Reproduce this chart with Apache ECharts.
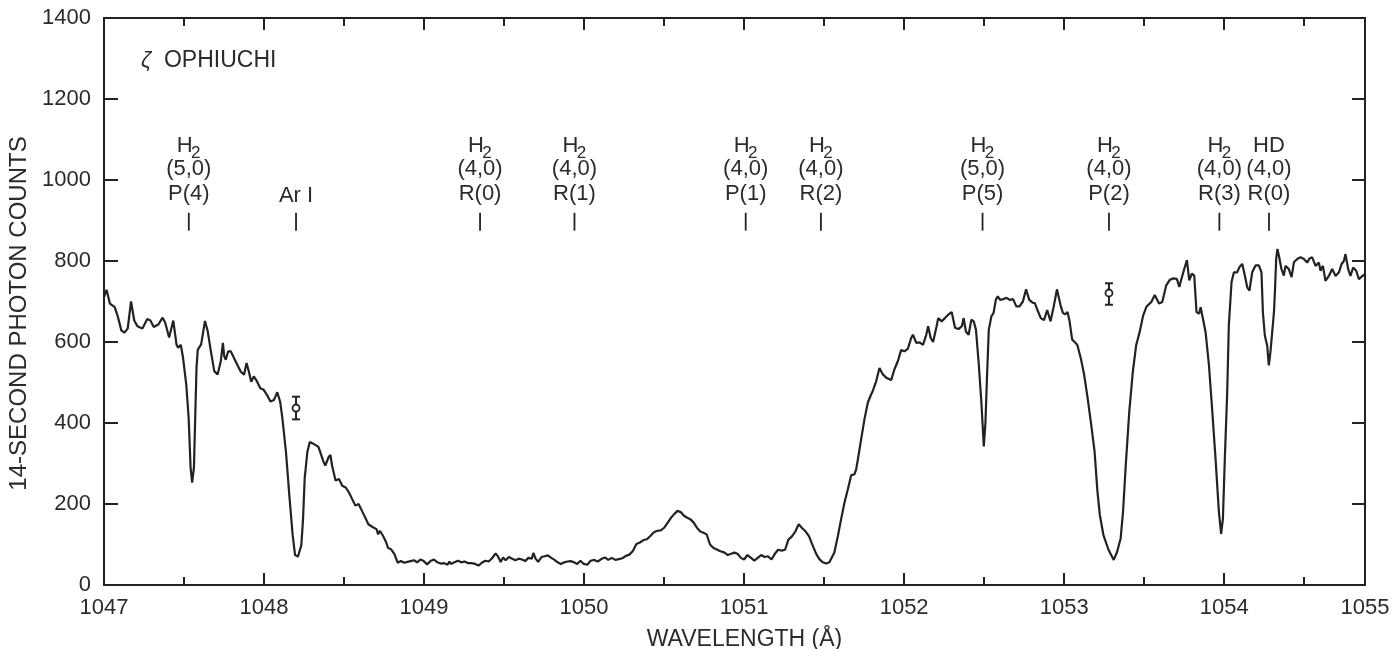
<!DOCTYPE html>
<html><head><meta charset="utf-8">
<script src="https://cdn.jsdelivr.net/npm/echarts@6/dist/echarts.min.js"></script>
<style>html,body{margin:0;padding:0;background:#fff}#c{width:1398px;height:649px}</style>
</head><body><div id="c"></div>
<script>
// ---- data ----
const spectrum = [
[1047.000,711],[1047.016,729],[1047.037,695],[1047.067,686],[1047.087,662],[1047.108,629],[1047.128,623],[1047.148,633],[1047.169,700],[1047.189,653],[1047.209,639],[1047.240,633],[1047.270,657],[1047.290,653],[1047.311,637],[1047.341,644],[1047.366,660],[1047.382,648],[1047.407,611],[1047.433,653],[1047.453,594],[1047.463,586],[1047.480,593],[1047.494,561],[1047.514,495],[1047.529,413],[1047.541,290],[1047.551,253],[1047.562,290],[1047.570,413],[1047.578,536],[1047.586,581],[1047.607,594],[1047.631,652],[1047.648,627],[1047.668,577],[1047.689,528],[1047.710,520],[1047.730,553],[1047.743,598],[1047.751,565],[1047.761,556],[1047.776,577],[1047.792,577],[1047.813,560],[1047.833,544],[1047.854,527],[1047.875,519],[1047.891,548],[1047.905,527],[1047.920,502],[1047.936,515],[1047.957,502],[1047.977,486],[1047.998,482],[1048.019,469],[1048.040,453],[1048.062,457],[1048.083,476],[1048.101,452],[1048.115,411],[1048.137,329],[1048.158,222],[1048.179,123],[1048.194,74],[1048.212,70],
[1048.233,98],[1048.244,164],[1048.254,263],[1048.271,329],[1048.286,353],[1048.308,349],[1048.340,341],[1048.351,337],[1048.372,304],[1048.383,295],[1048.404,316],[1048.415,321],[1048.425,295],[1048.447,258],[1048.468,262],[1048.489,245],[1048.510,241],[1048.530,229],[1048.551,212],[1048.571,196],[1048.591,200],[1048.612,183],[1048.632,167],[1048.652,150],[1048.683,142],[1048.703,138],[1048.713,125],[1048.724,134],[1048.744,121],[1048.764,105],[1048.774,92],[1048.794,88],[1048.815,76],[1048.835,55],[1048.855,59],[1048.876,55],[1048.896,57],[1048.916,59],[1048.937,61],[1048.957,56],[1048.977,63],[1048.998,59],[1049.019,51],[1049.040,59],[1049.062,63],[1049.083,56],[1049.104,53],[1049.126,54],[1049.147,50],[1049.158,58],[1049.168,52],[1049.190,56],[1049.212,60],[1049.233,56],[1049.254,58],[1049.276,54],[1049.297,54],[1049.319,52],[1049.340,48],[1049.361,55],[1049.383,60],[1049.404,58],[1049.425,66],[1049.447,78],[1049.463,70],[1049.479,57],[1049.494,68],[1049.510,61],[1049.530,69],[1049.551,65],[1049.571,61],[1049.591,65],[1049.612,63],[1049.632,59],[1049.652,67],[1049.673,65],[1049.683,79],[1049.697,65],
[1049.713,57],[1049.734,69],[1049.754,71],[1049.774,73],[1049.795,67],[1049.815,62],[1049.835,56],[1049.855,52],[1049.876,56],[1049.896,58],[1049.916,59],[1049.937,56],[1049.957,52],[1049.977,60],[1049.998,52],[1050.020,50],[1050.041,60],[1050.064,62],[1050.086,58],[1050.107,64],[1050.130,68],[1050.151,62],[1050.173,67],[1050.195,62],[1050.217,64],[1050.239,66],[1050.261,72],[1050.283,75],[1050.305,84],[1050.327,101],[1050.349,105],[1050.371,111],[1050.393,113],[1050.414,121],[1050.436,130],[1050.459,134],[1050.480,135],[1050.502,142],[1050.523,154],[1050.543,166],[1050.563,175],[1050.584,183],[1050.604,180],[1050.624,171],[1050.645,166],[1050.665,162],[1050.685,154],[1050.706,141],[1050.726,132],[1050.746,129],[1050.766,125],[1050.776,113],[1050.787,100],[1050.807,92],[1050.827,88],[1050.848,84],[1050.858,88],[1050.878,80],[1050.898,74],[1050.919,77],[1050.939,80],[1050.959,77],[1050.980,67],[1051.000,63],[1051.021,74],[1051.043,67],[1051.064,60],[1051.085,67],[1051.107,74],[1051.128,69],[1051.149,71],[1051.171,63],[1051.192,77],[1051.213,87],[1051.235,85],[1051.256,87],[1051.277,112],[1051.299,120],[1051.320,132],[1051.341,150],[1051.363,140],[1051.385,132],[1051.406,120],[1051.427,99],[1051.449,78],[1051.470,64],[1051.492,56],[1051.513,53],[1051.533,56],
[1051.544,59],[1051.564,80],[1051.586,121],[1051.606,162],[1051.627,203],[1051.648,236],[1051.669,271],[1051.689,273],[1051.700,285],[1051.711,310],[1051.731,359],[1051.752,409],[1051.773,450],[1051.789,466],[1051.804,479],[1051.825,503],[1051.846,536],[1051.867,520],[1051.888,512],[1051.919,506],[1051.939,532],[1051.961,553],[1051.981,580],[1052.002,577],[1052.023,583],[1052.044,610],[1052.055,618],[1052.076,598],[1052.097,599],[1052.118,593],[1052.139,619],[1052.150,639],[1052.166,610],[1052.181,600],[1052.203,639],[1052.213,659],[1052.234,651],[1052.255,659],[1052.277,668],[1052.297,674],[1052.318,635],[1052.340,632],[1052.361,639],[1052.372,659],[1052.386,626],[1052.403,618],[1052.420,655],[1052.435,651],[1052.449,630],[1052.466,548],[1052.483,449],[1052.498,342],[1052.508,400],[1052.518,515],[1052.529,630],[1052.545,663],[1052.559,672],[1052.573,704],[1052.585,713],[1052.600,704],[1052.620,706],[1052.640,709],[1052.660,704],[1052.681,706],[1052.701,688],[1052.721,688],[1052.742,700],[1052.762,730],[1052.782,704],[1052.803,697],[1052.817,696],[1052.833,679],[1052.854,659],[1052.874,654],[1052.894,679],
[1052.915,651],[1052.935,688],[1052.955,730],[1052.976,693],[1052.992,672],[1053.006,668],[1053.021,674],[1053.034,651],[1053.050,606],[1053.082,593],[1053.104,560],[1053.125,519],[1053.147,461],[1053.169,396],[1053.190,330],[1053.208,231],[1053.223,173],[1053.245,124],[1053.277,87],[1053.310,62],[1053.331,82],[1053.353,115],[1053.368,181],[1053.385,296],[1053.407,428],[1053.429,526],[1053.450,592],[1053.472,625],[1053.494,666],[1053.514,687],[1053.545,699],[1053.566,716],[1053.593,695],[1053.613,699],[1053.638,740],[1053.659,753],[1053.679,757],[1053.704,756],[1053.720,736],[1053.730,752],[1053.751,781],[1053.767,802],[1053.782,752],[1053.798,769],[1053.813,764],[1053.827,674],[1053.843,670],[1053.853,686],[1053.864,682],[1053.884,624],[1053.905,542],[1053.926,427],[1053.946,312],[1053.967,180],[1053.981,126],[1053.992,163],[1054.004,312],[1054.019,476],[1054.029,641],[1054.046,748],[1054.061,772],[1054.081,772],[1054.096,785],[1054.113,793],[1054.129,764],[1054.144,735],[1054.158,727],[1054.175,772],[1054.196,789],[1054.217,789],[1054.233,772],[1054.242,673],[1054.254,616],[1054.269,591],[1054.279,542],[1054.289,575],[1054.300,624],[1054.311,673],[1054.317,723],[1054.325,805],[1054.333,830],[1054.346,805],[1054.358,780],[1054.373,764],[1054.383,788],[1054.404,780],[1054.421,760],[1054.436,797],[1054.456,805],[1054.477,809],[1054.498,805],[1054.519,796],[1054.533,806],[1054.550,809],[1054.571,788],[1054.592,796],[1054.602,776],[1054.617,788],[1054.633,751],[1054.654,763],[1054.675,780],[1054.696,763],[1054.717,772],[1054.733,792],[1054.748,800],[1054.758,817],[1054.775,780],[1054.789,763],[1054.806,784],[1054.825,776],[1054.842,755],[1054.863,763],[1054.879,767]
];

// absorption-line identifications
const lineWavelengths = [1047.53, 1048.20, 1049.35, 1049.94, 1051.01, 1051.48, 1052.49, 1053.28, 1053.97, 1054.28];
const lineSpecies  = ['H2', 'Ar I', 'H2', 'H2', 'H2', 'H2', 'H2', 'H2', 'H2', 'HD'];
const lineBands    = ['(5,0)', '', '(4,0)', '(4,0)', '(4,0)', '(4,0)', '(5,0)', '(4,0)', '(4,0)', '(4,0)'];
const lineBranches = ['P(4)', '', 'R(0)', 'R(1)', 'P(1)', 'R(2)', 'P(5)', 'P(2)', 'R(3)', 'R(0)'];

// representative error bars: [wavelength, counts, low, high]
const errorBars = [[1048.20, 437, 409, 465], [1053.28, 721, 692, 745]];

const xMin = 1047, xMax = 1054.88;
const yTicks = [0, 200, 400, 600, 800, 1000, 1200, 1400];
const starName = 'ζ';
const starLabel = 'OPHIUCHI';
const xTitle = 'WAVELENGTH (Å)';
const yTitle = '14-SECOND PHOTON COUNTS';

// ---- chart ----
const FONT = '"Liberation Sans", Arial, Helvetica, sans-serif';
const INK = '#222';
const TXT = '#2b2b2b';
const chart = echarts.init(document.getElementById('c'), null, {renderer: 'canvas'});

const xLab = v => (Math.abs(v - Math.round(v)) < 0.15 ? String(Math.round(v)) : '');
const baseX = {type: 'value', min: xMin, max: xMax, splitLine: {show: false}, axisPointer: {show: false}};
const xAxes = [
  Object.assign({}, baseX, {position: 'bottom', interval: 1,
    axisLine: {show: true, lineStyle: {color: INK, width: 2}},
    axisTick: {show: true, inside: true, length: 12, lineStyle: {color: INK, width: 2}},
    axisLabel: {show: true, formatter: xLab, fontSize: 22, color: TXT, fontFamily: FONT, margin: 12, showMaxLabel: true, showMinLabel: true},
    name: xTitle, nameLocation: 'middle', nameGap: 43,
    nameTextStyle: {fontSize: 23, color: TXT, fontFamily: FONT, padding: [0, 0, 0, 20]}}),
  Object.assign({}, baseX, {position: 'bottom', interval: 0.5,
    axisLine: {show: false}, axisLabel: {show: false},
    axisTick: {show: true, inside: true, length: 8, lineStyle: {color: INK, width: 2}}}),
  Object.assign({}, baseX, {position: 'top', interval: 1,
    axisLine: {show: true, lineStyle: {color: INK, width: 2}}, axisLabel: {show: false},
    axisTick: {show: true, inside: true, length: 12, lineStyle: {color: INK, width: 2}}}),
  Object.assign({}, baseX, {position: 'top', interval: 0.5,
    axisLine: {show: false}, axisLabel: {show: false},
    axisTick: {show: true, inside: true, length: 8, lineStyle: {color: INK, width: 2}}})
];
const baseY = {type: 'value', min: yTicks[0], max: yTicks[yTicks.length - 1], interval: yTicks[1] - yTicks[0], splitLine: {show: false}};
const yAxes = [
  Object.assign({}, baseY, {position: 'left',
    axisLine: {show: true, lineStyle: {color: INK, width: 2}},
    axisTick: {show: true, inside: true, length: 14, lineStyle: {color: INK, width: 2}},
    axisLabel: {fontSize: 22, color: TXT, fontFamily: FONT, margin: 13, formatter: v => String(v)},
    name: yTitle, nameLocation: 'middle', nameGap: 70,
    nameTextStyle: {fontSize: 24, color: TXT, fontFamily: FONT, padding: [0, 24, 0, 0]}}),
  Object.assign({}, baseY, {position: 'right',
    axisLine: {show: true, lineStyle: {color: INK, width: 2}},
    axisTick: {show: true, inside: true, length: 13, lineStyle: {color: INK, width: 2}},
    axisLabel: {show: false}})
];

function txt(text, x, y, size) {
  return {type: 'text', style: {text: text, x: x, y: y, fontSize: size, fontFamily: FONT, fill: TXT,
    align: 'center', verticalAlign: 'middle', textAlign: 'center', textVerticalAlign: 'middle'}};
}

const option = {
  animation: false,
  backgroundColor: '#fff',
  grid: {left: 104, right: 33, top: 18, bottom: 64, containLabel: false, outerBoundsMode: 'none'},
  title: {text: '{z|' + starName + '}  ' + starLabel, left: 136, top: 44,
    textStyle: {fontSize: 23, fontWeight: 'normal', color: TXT, fontFamily: FONT,
      rich: {z: {fontSize: 22, fontStyle: 'italic', color: TXT, fontFamily: FONT}}}},
  xAxis: xAxes,
  yAxis: yAxes,
  series: [
    {type: 'line', xAxisIndex: 0, yAxisIndex: 0, data: spectrum, showSymbol: false, symbol: 'none',
      smooth: false, lineStyle: {color: INK, width: 2.2}, z: 3},
    {type: 'custom', xAxisIndex: 0, yAxisIndex: 0, data: errorBars, z: 4,
      renderItem: function (params, api) {
        const c = api.coord([api.value(0), api.value(1)]);
        const lo = api.coord([api.value(0), api.value(2)]);
        const hi = api.coord([api.value(0), api.value(3)]);
        const st = {stroke: INK, lineWidth: 2};
        return {type: 'group', children: [
          {type: 'line', shape: {x1: lo[0], y1: lo[1], x2: hi[0], y2: hi[1]}, style: st},
          {type: 'line', shape: {x1: lo[0] - 4, y1: lo[1], x2: lo[0] + 4, y2: lo[1]}, style: st},
          {type: 'line', shape: {x1: hi[0] - 4, y1: hi[1], x2: hi[0] + 4, y2: hi[1]}, style: st},
          {type: 'circle', shape: {cx: c[0], cy: c[1], r: 3.5}, style: {fill: '#fff', stroke: INK, lineWidth: 1.8}}
        ]};
      }},
    {type: 'custom', xAxisIndex: 0, yAxisIndex: 0, data: lineWavelengths.map(w => [w]), z: 4,
      encode: {x: 0},
      renderItem: function (params, api) {
        const i = params.dataIndex;
        const top = api.coord([api.value(0), 919]);
        const bot = api.coord([api.value(0), 875]);
        const x = top[0], y = top[1];
        const kids = [{type: 'line', shape: {x1: x, y1: top[1], x2: x, y2: bot[1]}, style: {stroke: INK, lineWidth: 1.8}}];
        const sp = lineSpecies[i];
        if (!lineBands[i]) {
          kids.push(txt(sp, x, y - 17, 22));
        } else {
          if (sp === 'H2') {
            kids.push(txt('H', x - 4, y - 67, 22));
            kids.push(txt('2', x + 7, y - 59, 17));
          } else {
            kids.push(txt(sp, x, y - 67, 22));
          }
          kids.push(txt(lineBands[i], x, y - 44, 22));
          kids.push(txt(lineBranches[i], x, y - 19, 22));
        }
        return {type: 'group', children: kids};
      }}
  ]
};
chart.setOption(option);
</script>
</body></html>
